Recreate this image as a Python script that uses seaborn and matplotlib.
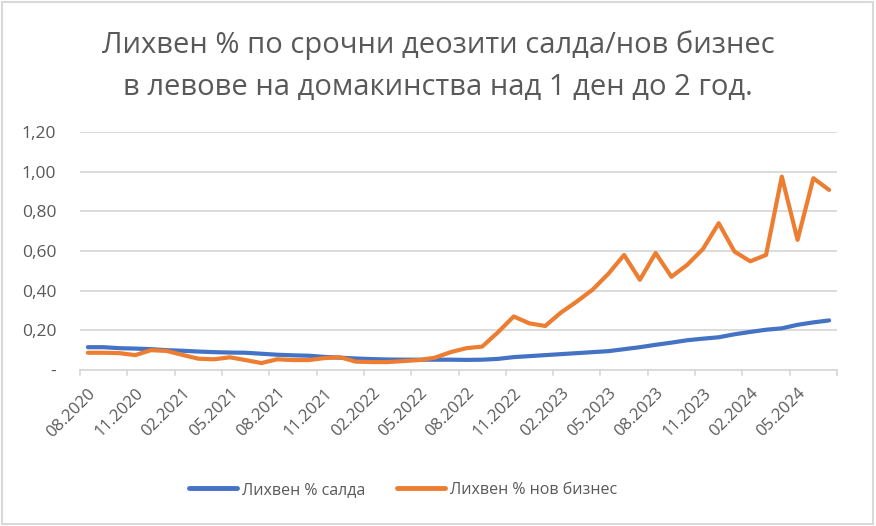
import numpy as np
import pandas as pd
import matplotlib
matplotlib.use("Agg")
import matplotlib.pyplot as plt
import seaborn as sns
from matplotlib.patches import Rectangle

# ---------------------------------------------------------
# DATA (monthly, 08.2020 - 07.2024)
# ---------------------------------------------------------

months = pd.period_range("2020-08", "2024-07", freq="M").strftime("%m.%Y").tolist()

saldo = [0.115, 0.115, 0.110, 0.108, 0.105, 0.100, 0.097, 0.093, 0.090, 0.088,
         0.087, 0.082, 0.077, 0.074, 0.072, 0.066, 0.062, 0.058, 0.055, 0.053,
         0.052, 0.052, 0.052, 0.052, 0.051, 0.052, 0.056, 0.065, 0.070, 0.075,
         0.080, 0.085, 0.090, 0.095, 0.105, 0.115, 0.127, 0.138, 0.150, 0.158,
         0.165, 0.180, 0.192, 0.203, 0.210, 0.228, 0.240, 0.250]

nov_biznes = [0.087, 0.087, 0.085, 0.075, 0.100, 0.096, 0.076, 0.057, 0.054, 0.064,
              0.050, 0.035, 0.054, 0.050, 0.050, 0.060, 0.064, 0.042, 0.040, 0.040,
              0.045, 0.050, 0.062, 0.090, 0.110, 0.118, 0.190, 0.270, 0.235, 0.222,
              0.290, 0.345, 0.405, 0.485, 0.580, 0.455, 0.590, 0.470, 0.530, 0.610,
              0.740, 0.597, 0.548, 0.580, 0.975, 0.656, 0.967, 0.908]

series_names = ["Лихвен % салда", "Лихвен % нов бизнес"]
y_ticks = [0, 0.2, 0.4, 0.6, 0.8, 1.0, 1.2]
y_labels = ["-", "0,20", "0,40", "0,60", "0,80", "1,00", "1,20"]

df = pd.DataFrame({
    "idx": list(range(len(months))) * 2,
    "value": saldo + nov_biznes,
    "series": [series_names[0]] * len(months) + [series_names[1]] * len(months),
})

# ---------------------------------------------------------
# PLOT
# ---------------------------------------------------------

sns.set_style("white")
plt.rcParams["font.family"] = ["Open Sans", "DejaVu Sans"]

fig = plt.figure(figsize=(8.76, 5.26), dpi=100)
ax = fig.add_axes([80 / 876, 1 - 370 / 526, 757 / 876, 238 / 526])

sns.lineplot(data=df, x="idx", y="value", hue="series",
             palette=["#4472C4", "#ED7D31"], linewidth=3.0, ax=ax,
             legend=False)

ax.set_xlim(-0.5, len(months) - 0.5)
ax.set_ylim(0, 1.2)

ax.set_yticks(y_ticks)
ax.set_yticklabels(y_labels)
ax.yaxis.grid(True, color="#D9D9D9", linewidth=1.3)
ax.set_axisbelow(True)

label_pos = list(range(0, len(months), 3))
ax.set_xticks(label_pos)
ax.set_xticklabels([months[i] for i in label_pos], rotation=45, ha="right",
                   rotation_mode="anchor")
ax.tick_params(axis="x", length=0, pad=11, labelsize=12, labelcolor="#595959")
ax.tick_params(axis="y", length=0, pad=17, labelsize=12.5, labelcolor="#595959")

# tick marks between categories
for b in np.arange(-0.5, len(months), 3):
    ax.plot([b, b], [0, -0.025], color="#D9D9D9", linewidth=1.3, clip_on=False)
ax.plot([len(months) - 0.5] * 2, [0, -0.025], color="#D9D9D9", linewidth=1.3,
        clip_on=False)

for s in ["top", "right", "left"]:
    ax.spines[s].set_visible(False)
ax.spines["bottom"].set_color("#D9D9D9")
ax.spines["bottom"].set_linewidth(1.3)
ax.set_xlabel("")
ax.set_ylabel("")

fig.text(0.5, 1 - 45 / 526, "Лихвен % по срочни деозити салда/нов бизнес",
         ha="center", va="center", fontsize=21, color="#595959")
fig.text(0.5, 1 - 88 / 526, "в левове на домакинства над 1 ден до 2 год.",
         ha="center", va="center", fontsize=21, color="#595959")

handles = [plt.Line2D([], [], color=c, linewidth=3.5) for c in ["#4472C4", "#ED7D31"]]
fig.legend(handles, series_names, loc="center", bbox_to_anchor=(0.46, 1 - 490 / 526),
           ncol=2, frameon=False, fontsize=11.5, labelcolor="#595959",
           handlelength=3.0, handletextpad=0.3, columnspacing=2.0)

fig.patches.append(Rectangle((0.002, 0.003), 0.995, 0.994, transform=fig.transFigure,
                             fill=False, edgecolor="#D9D9D9", linewidth=1.5))

plt.savefig("out.png", dpi=100)
